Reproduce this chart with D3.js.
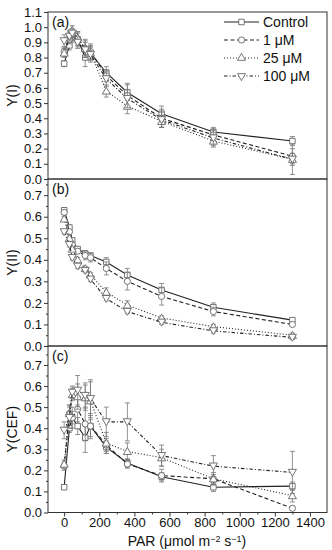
<!DOCTYPE html>
<html><head><meta charset="utf-8">
<script src="https://cdn.jsdelivr.net/npm/d3@7"></script>
<style>body{margin:0;background:#fff}svg{display:block}text{font-family:"Liberation Sans",Arial,sans-serif}</style>
</head><body><svg id="c" width="332" height="550"></svg>
<script>
const par = [0, 30, 46, 77, 120, 150, 240, 360, 555, 850, 1300];
const seriesNames = ["Control", "1 \u03bcM", "25 \u03bcM", "100 \u03bcM"];
// Panel (a) Y(I)
const yI_control = [0.76, 0.88, 0.93, 0.92, 0.80, 0.83, 0.70, 0.57, 0.43, 0.31, 0.25];
const yI_1 = [0.84, 0.92, 0.95, 0.92, 0.86, 0.84, 0.68, 0.55, 0.40, 0.29, 0.15];
const yI_25 = [0.83, 0.95, 0.98, 0.93, 0.86, 0.83, 0.58, 0.48, 0.38, 0.25, 0.13];
const yI_100 = [0.91, 0.94, 0.96, 0.90, 0.85, 0.82, 0.66, 0.53, 0.39, 0.27, 0.13];
const eI_control = [0.02, 0.03, 0.03, 0.04, 0.06, 0.04, 0.04, 0.05, 0.05, 0.03, 0.03];
const eI_1 = [0.03, 0.03, 0.03, 0.05, 0.06, 0.05, 0.04, 0.08, 0.06, 0.04, 0.05];
const eI_25 = [0.03, 0.03, 0.03, 0.04, 0.05, 0.05, 0.04, 0.05, 0.04, 0.04, 0.04];
const eI_100 = [0.04, 0.03, 0.03, 0.04, 0.05, 0.05, 0.05, 0.06, 0.05, 0.05, 0.10];
// Panel (b) Y(II)
const yII_control = [0.63, 0.55, 0.49, 0.45, 0.43, 0.42, 0.39, 0.33, 0.26, 0.18, 0.12];
const yII_1 = [0.62, 0.53, 0.47, 0.44, 0.42, 0.41, 0.36, 0.30, 0.23, 0.16, 0.10];
const yII_25 = [0.59, 0.50, 0.45, 0.40, 0.36, 0.33, 0.25, 0.19, 0.13, 0.09, 0.05];
const yII_100 = [0.53, 0.47, 0.41, 0.37, 0.35, 0.31, 0.22, 0.16, 0.11, 0.07, 0.04];
const eII_control = [0.01, 0.01, 0.01, 0.01, 0.01, 0.01, 0.02, 0.03, 0.03, 0.02, 0.01];
const eII_1 = [0.01, 0.01, 0.01, 0.01, 0.02, 0.02, 0.03, 0.04, 0.04, 0.02, 0.01];
const eII_25 = [0.01, 0.01, 0.01, 0.01, 0.01, 0.01, 0.02, 0.02, 0.01, 0.01, 0.01];
const eII_100 = [0.01, 0.01, 0.01, 0.01, 0.01, 0.01, 0.01, 0.01, 0.01, 0.01, 0.01];
// Panel (c) Y(CEF)
const yC_control = [0.12, 0.40, 0.45, 0.41, 0.355, 0.41, 0.31, 0.235, 0.17, 0.12, 0.125];
const yC_1 = [0.22, 0.47, 0.45, 0.49, 0.42, 0.41, 0.32, 0.23, 0.175, 0.16, 0.02];
const yC_25 = [0.23, 0.47, 0.56, 0.55, 0.545, 0.53, 0.33, 0.29, 0.26, 0.16, 0.08];
const yC_100 = [0.39, 0.45, 0.57, 0.58, 0.555, 0.54, 0.43, 0.43, 0.27, 0.22, 0.19];
const eC_control = [0.01, 0.02, 0.03, 0.04, 0.07, 0.05, 0.03, 0.02, 0.02, 0.02, 0.02];
const eC_1 = [0.02, 0.04, 0.05, 0.06, 0.08, 0.06, 0.03, 0.02, 0.03, 0.02, 0.01];
const eC_25 = [0.02, 0.04, 0.03, 0.06, 0.06, 0.09, 0.05, 0.04, 0.04, 0.03, 0.03];
const eC_100 = [0.04, 0.05, 0.03, 0.07, 0.06, 0.09, 0.07, 0.09, 0.05, 0.05, 0.10];
const xTicks = [0, 200, 400, 600, 800, 1000, 1200, 1400];

const panels = [
  {label: "(a)", title: "Y(I)", top: 12, bottom: 179, ymax: 1.1, ticks: d3.range(0, 1.101, 0.1), minor: [],
   ys: [yI_control, yI_1, yI_25, yI_100], es: [eI_control, eI_1, eI_25, eI_100]},
  {label: "(b)", title: "Y(II)", top: 179, bottom: 346, ymax: 0.775, ticks: d3.range(0, 0.701, 0.1), minor: d3.range(0.05, 0.76, 0.1),
   ys: [yII_control, yII_1, yII_25, yII_100], es: [eII_control, eII_1, eII_25, eII_100]},
  {label: "(c)", title: "Y(CEF)", top: 346, bottom: 512.5, ymax: 0.79, ticks: d3.range(0, 0.701, 0.1), minor: d3.range(0.05, 0.76, 0.1),
   ys: [yC_control, yC_1, yC_25, yC_100], es: [eC_control, eC_1, eC_25, eC_100]}
];

const svg = d3.select("#c");
const L = 48, R = 327;
const x = d3.scaleLinear().domain([-92, 1497]).range([L, R]);
const dashes = [null, "4,2.5", "1,2", "3.5,2,1,2"];
const syms = [d3.symbolSquare, d3.symbolCircle, d3.symbolTriangle, d3.symbolTriangle];
const symSize = [30, 30, 28, 28];
const rot = [0, 0, 0, 180];
const lineCol = "#222", markCol = "#666", errCol = "#777";

panels.forEach((p, pi) => {
  const y = d3.scaleLinear().domain([0, p.ymax]).range([p.bottom, p.top]);
  const g = svg.append("g");
  p.ys.forEach((vals, si) => {
    const pts = par.map((v, i) => ({x: v, y: vals[i], e: p.es[si][i]}));
    const eg = g.append("g").attr("stroke", errCol).attr("stroke-width", 0.8);
    pts.forEach(d => {
      eg.append("line").attr("x1", x(d.x)).attr("x2", x(d.x)).attr("y1", y(d.y - d.e)).attr("y2", y(d.y + d.e));
      [d.y - d.e, d.y + d.e].forEach(v => eg.append("line").attr("x1", x(d.x) - 2.5).attr("x2", x(d.x) + 2.5).attr("y1", y(v)).attr("y2", y(v)));
    });
    g.append("path").datum(pts)
      .attr("d", d3.line().x(d => x(d.x)).y(d => y(d.y)))
      .attr("fill", "none").attr("stroke", lineCol).attr("stroke-width", 1.1)
      .attr("stroke-dasharray", dashes[si]);
    g.selectAll(null).data(pts).enter().append("path")
      .attr("d", d3.symbol().type(syms[si]).size(symSize[si]))
      .attr("transform", d => `translate(${x(d.x)},${y(d.y) + (si === 3 ? -0.8 : si === 2 ? 0.8 : 0)}) rotate(${rot[si]})`)
      .attr("fill", "#fff").attr("stroke", markCol).attr("stroke-width", 0.9);
  });
  g.append("rect").attr("x", L).attr("y", p.top).attr("width", R - L).attr("height", p.bottom - p.top)
    .attr("fill", "none").attr("stroke", "#333").attr("stroke-width", 1);
  const ya = g.append("g").attr("transform", `translate(${L},0)`)
    .call(d3.axisLeft(y).tickValues(p.ticks).tickFormat(d3.format(".1f")).tickSize(4).tickPadding(2));
  ya.select(".domain").remove();
  ya.selectAll(".tick line").attr("stroke", "#333");
  ya.selectAll("text").attr("font-size", 13).attr("fill", "#111");
  const ym = g.append("g").attr("transform", `translate(${L},0)`)
    .call(d3.axisLeft(y).tickValues(p.minor).tickFormat("").tickSize(2));
  ym.select(".domain").remove();
  ym.selectAll(".tick line").attr("stroke", "#333");
  g.append("text").attr("x", L + 4).attr("y", p.top + 15).attr("font-size", 14).attr("fill", "#111").text(p.label);
  g.append("text").attr("transform", `translate(17,${(p.top + p.bottom) / 2}) rotate(-90)`)
    .attr("text-anchor", "middle").attr("font-size", 14).attr("fill", "#111").text(p.title);
  if (pi === 2) {
    const xa = g.append("g").attr("transform", `translate(0,${p.bottom})`)
      .call(d3.axisBottom(x).tickValues(xTicks).tickFormat(d3.format("d")).tickSize(4).tickPadding(1));
    xa.select(".domain").remove();
    xa.selectAll(".tick line").attr("stroke", "#333");
    xa.selectAll("text").attr("font-size", 13).attr("fill", "#111");
    const xm = g.append("g").attr("transform", `translate(0,${p.bottom})`)
      .call(d3.axisBottom(x).tickValues(d3.range(100, 1500, 200)).tickFormat("").tickSize(2));
    xm.select(".domain").remove();
    xm.selectAll(".tick line").attr("stroke", "#333");
    const t = g.append("text").attr("x", 187).attr("y", 546).attr("text-anchor", "middle").attr("font-size", 14).attr("fill", "#111");
    t.append("tspan").text("PAR (\u03bcmol m");
    t.append("tspan").attr("dy", -4).attr("font-size", 9).text("\u22122");
    t.append("tspan").attr("dy", 4).text(" s");
    t.append("tspan").attr("dy", -4).attr("font-size", 9).text("\u22121");
    t.append("tspan").attr("dy", 4).text(")");
  }
});

const lg = svg.append("g");
seriesNames.forEach((n, si) => {
  const ly = 22 + si * 18;
  lg.append("line").attr("x1", 224).attr("x2", 259).attr("y1", ly).attr("y2", ly)
    .attr("stroke", lineCol).attr("stroke-width", 1.1).attr("stroke-dasharray", dashes[si]);
  lg.append("path").attr("d", d3.symbol().type(syms[si]).size(symSize[si]))
    .attr("transform", `translate(241.5,${ly}) rotate(${rot[si]})`)
    .attr("fill", "#fff").attr("stroke", markCol).attr("stroke-width", 0.9);
  lg.append("text").attr("x", 263).attr("y", ly + 5).attr("font-size", 14).attr("fill", "#111").text(n);
});
</script></body></html>
